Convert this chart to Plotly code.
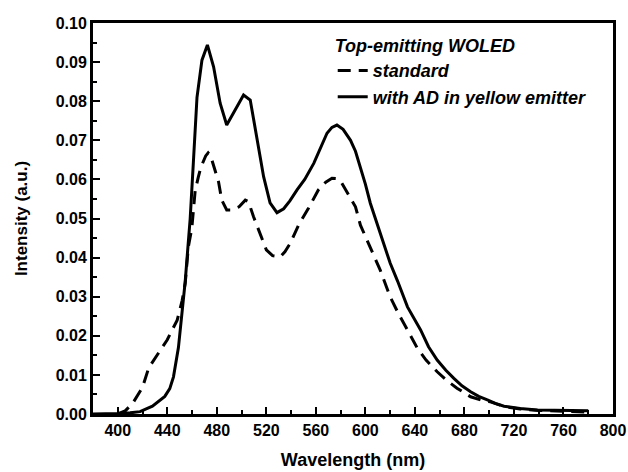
import plotly.graph_objects as go

# Wavelength (nm) and intensity (a.u.)
wl_ad = [380, 390, 400, 410, 418, 428, 438, 442, 445, 449, 452, 454.5, 457, 458.5, 461, 464,
         468, 472.4, 477.4, 482.7, 488, 494.9, 501.6, 507, 512.4, 517.8, 523, 528.6, 534, 539,
         544.8, 551, 558.3, 564, 569, 573, 577, 582, 588, 592, 596, 600, 604, 608, 612, 620,
         626, 634, 644.6, 651, 658, 665, 671.5, 678, 685, 691.5, 698.5, 705, 712, 725, 739,
         755, 774, 780]
int_ad = [0, 0, 0.0001, 0.0003, 0.0006, 0.002, 0.0045, 0.0065, 0.0095, 0.017, 0.026, 0.034,
          0.044, 0.050, 0.064, 0.081, 0.0905, 0.0944, 0.0888, 0.0795, 0.0739, 0.0777, 0.0816,
          0.0803, 0.070, 0.0607, 0.054, 0.0515, 0.0525, 0.0545, 0.0573, 0.060, 0.0641, 0.068,
          0.0718, 0.0733, 0.0739, 0.0728, 0.070, 0.0672, 0.0633, 0.0588, 0.0539, 0.050, 0.0462,
          0.0386, 0.034, 0.0274, 0.0215, 0.0172, 0.0138, 0.0112, 0.0091, 0.0072, 0.0057,
          0.0045, 0.0036, 0.0027, 0.002, 0.0014, 0.001, 0.0009, 0.0008, 0.0008]

wl_std = [400, 406, 412, 420, 425, 432, 440, 448, 452, 454.5, 457, 459.8, 462.5, 465, 467,
          471, 473, 475, 477.4, 481.4, 484, 488, 492, 498, 503, 505.6, 509.6, 515, 520, 525,
          531.3, 535, 539.4, 546, 554, 562, 568, 573, 577, 581, 585, 592, 596, 601.4, 608, 612,
          620, 627, 634, 642, 649, 658, 666, 674, 685, 693, 701, 712, 725, 740, 760, 780]
int_std = [0, 0.0008, 0.0027, 0.0068, 0.0118, 0.0151, 0.019, 0.024, 0.029, 0.0335, 0.0427,
           0.0475, 0.057, 0.0605, 0.063, 0.066, 0.0668, 0.066, 0.0633, 0.0594, 0.0547, 0.0522,
           0.0522, 0.053, 0.0547, 0.0543, 0.0505, 0.0458, 0.042, 0.0405, 0.0402, 0.0415, 0.0437,
           0.0483, 0.0526, 0.0573, 0.0593, 0.0603, 0.0602, 0.059, 0.0569, 0.053, 0.0483, 0.0445,
           0.040, 0.0368, 0.030, 0.0255, 0.0215, 0.0168, 0.0138, 0.0108, 0.0085, 0.0066, 0.0044,
           0.0036, 0.0031, 0.0019, 0.0013, 0.0009, 0.0007, 0.0005]

FONT = "Liberation Sans, Arial, sans-serif"

fig = go.Figure()
fig.add_trace(go.Scatter(x=wl_std, y=int_std, mode="lines", name="standard",
                         line=dict(color="black", width=3, dash="13px,8px")))
fig.add_trace(go.Scatter(x=wl_ad, y=int_ad, mode="lines", name="with AD in yellow emitter",
                         line=dict(color="black", width=3)))

axis_common = dict(showline=True, linecolor="black", linewidth=3, mirror=True,
                   ticks="inside", tickcolor="black", tickwidth=2, ticklen=7,
                   showgrid=False, zeroline=False, automargin=False,
                   tickfont=dict(family=FONT, size=16, color="black", weight="bold"))

fig.update_xaxes(range=[380, 800], dtick=40, tick0=0,
                 minor=dict(ticks="inside", dtick=20, ticklen=4, tickwidth=2, tickcolor="black"),
                 title=dict(text="Wavelength (nm)", standoff=16,
                            font=dict(family=FONT, size=18, color="black", weight="bold")),
                 **axis_common)
fig.update_yaxes(range=[0, 0.1], dtick=0.01, tick0=0, tickformat=".2f",
                 minor=dict(ticks="inside", dtick=0.005, ticklen=4, tickwidth=2, tickcolor="black"),
                 title=dict(text="Intensity (a.u.)", standoff=24,
                            font=dict(family=FONT, size=17, color="black", weight="bold")),
                 **axis_common)

fig.update_layout(
    width=628, height=472,
    margin=dict(l=93, r=15, t=23, b=58),
    paper_bgcolor="white", plot_bgcolor="white",
    showlegend=True,
    legend=dict(x=0.461, y=0.985, xanchor="left", yanchor="top",
                bgcolor="rgba(0,0,0,0)", borderwidth=0, tracegroupgap=0,
                title=dict(text="Top-emitting WOLED", side="top",
                           font=dict(family=FONT, size=18, color="black", weight="bold", style="italic")),
                font=dict(family=FONT, size=18, color="black", weight="bold", style="italic")),
)

fig.write_html("out.html")
